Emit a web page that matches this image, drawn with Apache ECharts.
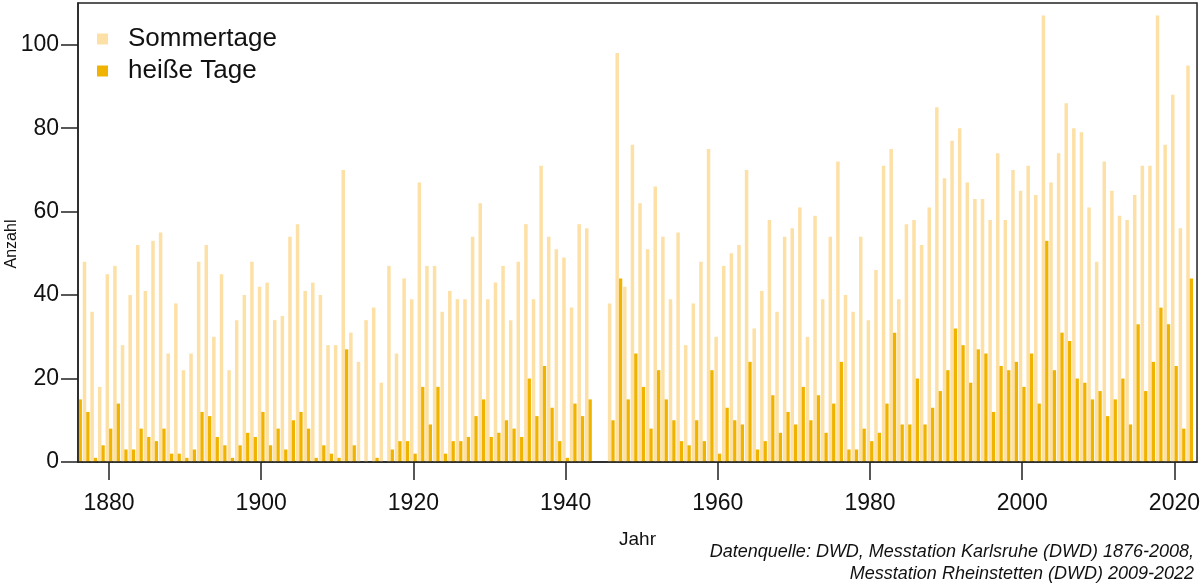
<!DOCTYPE html>
<html>
<head>
<meta charset="utf-8">
<script src="https://cdn.jsdelivr.net/npm/echarts@6/dist/echarts.min.js"></script>
<style>
html,body{margin:0;padding:0;background:#fff;}
#chart{width:1203px;height:586px;}
</style>
</head>
<body>
<div id="chart"></div>
<script>
const firstYear = 1876;
const lastYear = 2022;
const tickYears = [1880, 1900, 1920, 1940, 1960, 1980, 2000, 2020];
const yTicks = [0, 20, 40, 60, 80, 100];
const seriesNames = ['Sommertage', 'heiße Tage'];

// Sommertage (Tmax >= 25 °C), 1876-2022 (1876 not visible in the picture; 1944/45 missing)
const sommertage = [
  null, 48, 36, 18, 45, 47, 28, 40, 52, 41, 53, 55, 26, 38, 22, 26, 48, 52, 30, 45,
  22, 34, 40, 48, 42, 43, 34, 35, 54, 57, 41, 43, 40, 28, 28, 70, 31, 24, 34, 37,
  19, 47, 26, 44, 39, 67, 47, 47, 36, 41, 39, 39, 54, 62, 39, 43, 47, 34, 48, 57,
  39, 71, 54, 51, 49, 37, 57, 56, null, null, 38, 98, 42, 76, 62, 51, 66, 54, 39, 55,
  28, 38, 48, 75, 30, 47, 50, 52, 70, 32, 41, 58, 36, 54, 56, 61, 30, 59, 39, 54,
  72, 40, 36, 54, 34, 46, 71, 75, 39, 57, 58, 52, 61, 85, 68, 77, 80, 67, 63, 63,
  58, 74, 58, 70, 65, 71, 64, 107, 67, 74, 86, 80, 79, 61, 48, 72, 65, 59, 58, 64,
  71, 71, 107, 76, 88, 56, 95
];

// heiße Tage (Tmax >= 30 °C), 1876-2022
const heisseTage = [
  15, 12, 1, 4, 8, 14, 3, 3, 8, 6, 5, 8, 2, 2, 1, 3, 12, 11, 6, 4,
  1, 4, 7, 6, 12, 4, 8, 3, 10, 12, 8, 1, 4, 2, 1, 27, 4, 0, 0, 1,
  0, 3, 5, 5, 2, 18, 9, 18, 2, 5, 5, 6, 11, 15, 6, 7, 10, 8, 6, 20,
  11, 23, 13, 5, 1, 14, 11, 15, null, null, 10, 44, 15, 26, 18, 8, 22, 15, 10, 5,
  4, 10, 5, 22, 2, 13, 10, 9, 24, 3, 5, 16, 7, 12, 9, 18, 10, 16, 7, 14,
  24, 3, 3, 8, 5, 7, 14, 31, 9, 9, 20, 9, 13, 17, 22, 32, 28, 19, 27, 26,
  12, 23, 22, 24, 18, 26, 14, 53, 22, 31, 29, 20, 19, 15, 17, 11, 15, 20, 9, 33,
  17, 24, 37, 33, 23, 8, 44
];

const years = [];
for (let y = firstYear; y <= lastYear; y++) years.push(y);

const lightColor = '#FDE0A6';
const darkColor = '#F0B400';
const axisColor = '#222';
const font = '"Liberation Sans", Arial, sans-serif';

const chart = echarts.init(document.getElementById('chart'), null, {renderer: 'canvas'});

chart.setOption({
  animation: false,
  backgroundColor: '#fff',
  textStyle: {fontFamily: font},
  grid: {
    left: 78, right: 5, top: 3, bottom: 124,
    show: true, borderColor: axisColor, borderWidth: 1.5, backgroundColor: 'transparent'
  },
  legend: {
    orient: 'vertical',
    left: 92, top: 21,
    itemWidth: 11, itemHeight: 11, itemGap: 6,
    textStyle: {fontSize: 26, color: '#111', fontFamily: font, lineHeight: 26, padding: [0, 0, 0, 15]},
    data: [
      {name: seriesNames[0], icon: 'rect'},
      {name: seriesNames[1], icon: 'rect'}
    ]
  },
  xAxis: {
    type: 'value',
    min: 1875.93,
    max: 2022.97,
    z: 5,
    axisLine: {show: true, onZero: false, lineStyle: {color: axisColor, width: 1.5}},
    axisTick: {show: true, length: 18, customValues: tickYears, lineStyle: {color: axisColor, width: 1.5}},
    axisLabel: {customValues: tickYears, fontSize: 23, color: '#111', margin: 30, fontFamily: font,
      formatter: v => String(v)},
    splitLine: {show: false}
  },
  yAxis: {
    type: 'value',
    min: 0, max: 110,
    z: 5,
    axisLine: {show: true, lineStyle: {color: axisColor, width: 1.5}},
    axisTick: {show: true, length: 17, customValues: yTicks, lineStyle: {color: axisColor, width: 1.5}},
    axisLabel: {customValues: yTicks, fontSize: 23, color: '#111', margin: 19, fontFamily: font},
    splitLine: {show: false}
  },
  graphic: [
    {type: 'text', left: 619, top: 530,
      style: {text: 'Jahr', fontSize: 19, fill: '#111', fontFamily: font}},
    {type: 'text', x: 12, y: 244, rotation: Math.PI / 2,
      style: {text: 'Anzahl', fontSize: 16, fill: '#111', fontFamily: font, align: 'center', verticalAlign: 'middle'}},
    {type: 'text', x: 1194, y: 552,
      style: {text: 'Datenquelle: DWD, Messtation Karlsruhe (DWD) 1876-2008,', fontSize: 18, fill: '#111',
        fontStyle: 'italic', fontFamily: font, align: 'right', verticalAlign: 'middle'}},
    {type: 'text', x: 1194, y: 574,
      style: {text: 'Messtation Rheinstetten (DWD) 2009-2022', fontSize: 18, fill: '#111',
        fontStyle: 'italic', fontFamily: font, align: 'right', verticalAlign: 'middle'}}
  ],
  series: [
    {
      name: seriesNames[0], type: 'bar',
      data: years.map((y, i) => [y, sommertage[i]]),
      barWidth: 3.5, barGap: '0%',
      itemStyle: {color: lightColor},
      clip: true
    },
    {
      name: seriesNames[1], type: 'bar',
      data: years.map((y, i) => [y, heisseTage[i]]),
      barWidth: 3.3, barGap: '0%',
      itemStyle: {color: darkColor},
      clip: true
    }
  ]
});
</script>
</body>
</html>
